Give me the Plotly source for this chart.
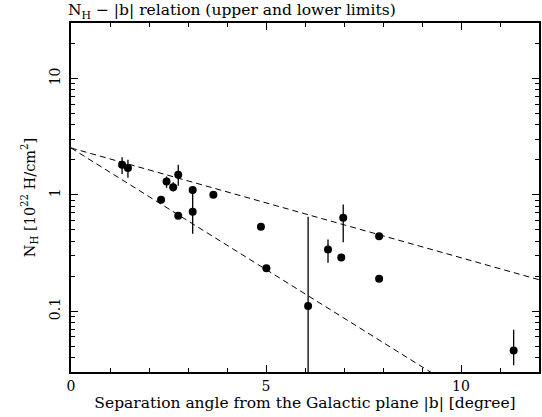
import numpy as np
import plotly.graph_objects as go

# Data
b_deg = [1.31, 1.46, 2.31, 2.45, 2.62, 2.75, 2.75, 3.12, 3.12, 3.65,
         4.87, 5.01, 6.08, 6.59, 6.93, 6.98, 7.90, 7.90, 11.35]
nh = [1.81, 1.70, 0.906, 1.30, 1.16, 1.49, 0.66, 1.10, 0.715, 1.00,
      0.531, 0.234, 0.111, 0.339, 0.290, 0.635, 0.441, 0.190, 0.046]
nh_hi = [2.10, 2.00, 0.906, 1.44, 1.28, 1.81, 0.66, 1.10, 1.09, 1.00,
         0.531, 0.234, 0.647, 0.413, 0.290, 0.824, 0.441, 0.190, 0.0694]
nh_lo = [1.51, 1.40, 0.906, 1.15, 1.07, 1.20, 0.66, 1.10, 0.463, 1.00,
         0.531, 0.234, 0.001, 0.261, 0.290, 0.392, 0.441, 0.190, 0.0343]

# Limit relations: N_H = A * 10^(slope * |b|)
upper_A, upper_slope = 2.53, -0.0944
lower_A, lower_slope = 2.53, -0.209
line_x = [0, 12]

x_ticks = [0, 5, 10]
y_ticks = [0.1, 1, 10]
y_ticktext = ["0.1", "1", "10"]

font = "DejaVu Serif"

fig = go.Figure()

for A, s in [(upper_A, upper_slope), (lower_A, lower_slope)]:
    lx = np.array(line_x, dtype=float)
    fig.add_trace(go.Scatter(
        x=lx, y=A * 10 ** (s * lx), mode="lines",
        line=dict(color="black", width=1, dash="6px,4px"),
        hoverinfo="skip", showlegend=False))

err_plus = [h - v for h, v in zip(nh_hi, nh)]
err_minus = [v - l for v, l in zip(nh, nh_lo)]

fig.add_trace(go.Scatter(
    x=b_deg, y=nh, mode="markers",
    marker=dict(color="black", size=8),
    error_y=dict(type="data", symmetric=False, array=err_plus,
                 arrayminus=err_minus, color="black", thickness=1.3, width=0),
    showlegend=False))

axis_common = dict(
    showline=True, linecolor="black", linewidth=1.5, mirror="allticks",
    ticks="inside", ticklen=7, tickwidth=1, tickcolor="black",
    showgrid=False, zeroline=False,
    tickfont=dict(family=font, size=14, color="black"),
)

fig.update_xaxes(
    range=[0, 12], tickmode="array", tickvals=x_ticks,
    minor=dict(ticks="inside", ticklen=4, dtick=1, tickcolor="black", showgrid=False),
    title=dict(text="Separation angle from the Galactic plane |b| [degree]",
               font=dict(family=font, size=15.5, color="black"), standoff=3),
    **axis_common)

fig.update_yaxes(
    type="log", range=[np.log10(0.03), np.log10(30)],
    tickmode="array", tickvals=y_ticks, ticktext=y_ticktext, tickangle=-90,
    ticklabelstandoff=4,
    minor=dict(ticks="inside", ticklen=4, dtick="D1", tickcolor="black", showgrid=False),
    title=dict(text="N<sub>H</sub> [10<sup>22</sup> H/cm<sup>2</sup>]",
               font=dict(family=font, size=14.5, color="black"), standoff=8),
    **axis_common)

fig.update_layout(
    width=542, height=417,
    margin=dict(l=71, r=1, t=23, b=45),
    paper_bgcolor="white", plot_bgcolor="white",
    title=dict(text="N<sub>H</sub> − |b| relation (upper and lower limits)",
               x=68 / 542, xanchor="left", y=1 - 10 / 417, yanchor="middle",
               font=dict(family=font, size=15.5, color="black")),
)

fig.write_html("out.html")
